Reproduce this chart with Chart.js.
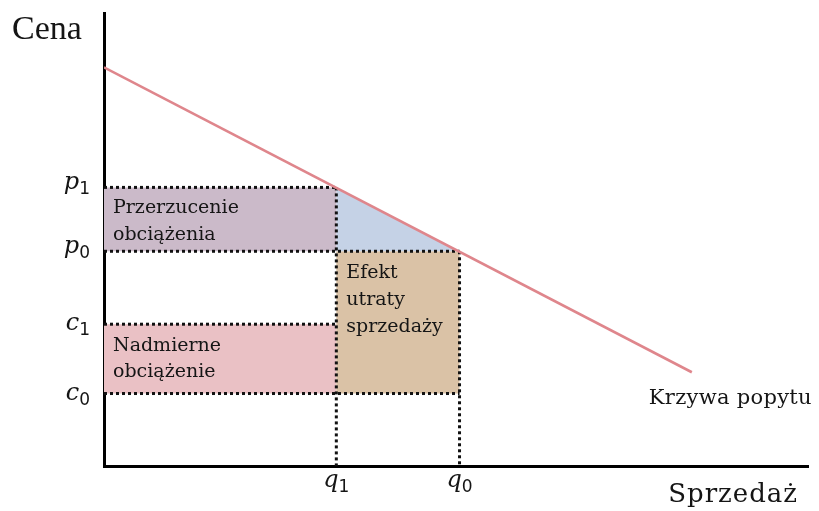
<!DOCTYPE html>
<html>
<head>
<meta charset="utf-8">
<script src="https://cdn.jsdelivr.net/npm/chart.js@4.4.0/dist/chart.umd.min.js"></script>
<style>
  html, body { margin: 0; padding: 0; background: #fff; }
  #wrap { width: 819px; height: 511px; }
</style>
</head>
<body>
<div id="wrap"><canvas id="wykres"></canvas></div>
<script>
// wartości (jednostki umowne, osie 0..100)
const popyt = [{ x: 0, y: 88 }, { x: 83.5, y: 20.7 }];
const q1 = 33, q0 = 50.5;
const p1 = 61.5, p0 = 47.4;
const c1 = 31.3, c0 = 16;

// etykiety osi
const cenyWartosci = [p1, p0, c1, c0];
const cenyLitery = ["p", "p", "c", "c"];
const cenyIndeksy = ["1", "0", "1", "0"];
const ilosciWartosci = [q1, q0];
const ilosciLitery = ["q", "q"];
const ilosciIndeksy = ["1", "0"];

// podpisy pól
const tekstPrzerzucenie = ["Przerzucenie", "obciążenia"];
const tekstNadmierne = ["Nadmierne", "obciążenie"];
const tekstEfekt = ["Efekt", "utraty", "sprzedaży"];

function prostokat(x1, y1, x2, y2) {
  return [{ x: x1, y: y1 }, { x: x2, y: y1 }, { x: x2, y: y2 }, { x: x1, y: y2 }, { x: x1, y: y1 }];
}

function pole(dane, kolor) {
  return {
    data: dane, showLine: true, fill: "shape", backgroundColor: kolor,
    borderWidth: 0, borderColor: "rgba(0,0,0,0)", pointRadius: 0, order: 10
  };
}

function kropki(dane) {
  return {
    data: dane, showLine: true, fill: false, borderColor: "#111",
    borderWidth: 3, borderDash: [3, 3], borderCapStyle: "butt",
    pointRadius: 0, order: 5
  };
}

const napisy = {
  id: "napisy",
  afterDatasetsDraw(chart) {
    const { ctx, scales: { x, y } } = chart;
    ctx.save();
    ctx.fillStyle = "#151515";
    ctx.textBaseline = "alphabetic";

    // etykiety na osi cen
    cenyWartosci.forEach((v, i) => {
      const py = y.getPixelForValue(v);
      ctx.font = "17px 'DejaVu Sans'";
      const wS = ctx.measureText(cenyIndeksy[i]).width;
      ctx.font = "italic 24px 'DejaVu Serif'";
      const wL = ctx.measureText(cenyLitery[i]).width;
      const prawy = x.getPixelForValue(0) - 14;
      const dy = cenyLitery[i] === "p" ? 2 : 6;
      ctx.textAlign = "left";
      ctx.fillText(cenyLitery[i], prawy - wS - wL, py + dy);
      ctx.font = "17px 'DejaVu Sans'";
      ctx.fillText(cenyIndeksy[i], prawy - wS, py + dy + 5);
    });

    // etykiety na osi ilości
    ilosciWartosci.forEach((v, i) => {
      const px = x.getPixelForValue(v);
      const py = y.getPixelForValue(0) + 21;
      ctx.font = "17px 'DejaVu Sans'";
      const wS = ctx.measureText(ilosciIndeksy[i]).width;
      ctx.font = "italic 24px 'DejaVu Serif'";
      const wL = ctx.measureText(ilosciLitery[i]).width;
      const lewy = px - (wS + wL) / 2;
      ctx.textAlign = "left";
      ctx.fillText(ilosciLitery[i], lewy, py);
      ctx.font = "17px 'DejaVu Sans'";
      ctx.fillText(ilosciIndeksy[i], lewy + wL, py + 5);
    });

    // podpisy pól
    ctx.font = "19px 'DejaVu Serif'";
    ctx.textAlign = "left";
    tekstPrzerzucenie.forEach((t, i) => {
      ctx.fillText(t, x.getPixelForValue(0) + 9, y.getPixelForValue(p1) + 26 + i * 27);
    });
    tekstNadmierne.forEach((t, i) => {
      ctx.fillText(t, x.getPixelForValue(0) + 9, y.getPixelForValue(c1) + 27 + i * 26);
    });
    tekstEfekt.forEach((t, i) => {
      ctx.fillText(t, x.getPixelForValue(q1) + 10, y.getPixelForValue(p0) + 27 + i * 27);
    });

    // krzywa popytu
    ctx.font = "21px 'DejaVu Serif'";
    ctx.letterSpacing = "0.3px";
    const koniec = popyt[popyt.length - 1];
    ctx.fillText("Krzywa popytu", x.getPixelForValue(koniec.x) - 43, y.getPixelForValue(koniec.y) + 32);

    // tytuły osi
    ctx.letterSpacing = "0px";
    ctx.font = "34px 'Liberation Serif'";
    ctx.fillText("Cena", 12, 39);
    ctx.font = "26px 'DejaVu Serif'";
    ctx.letterSpacing = "1px";
    ctx.textAlign = "right";
    ctx.fillText("Sprzedaż", 798, 502);
    ctx.restore();
  }
};

new Chart(document.getElementById("wykres"), {
  type: "scatter",
  data: {
    datasets: [
      pole(prostokat(0, p0, q1, p1), "#cbbac9"),
      pole([{ x: q1, y: p1 }, { x: q1, y: p0 }, { x: q0, y: p0 }, { x: q1, y: p1 }], "#c5d2e6"),
      pole(prostokat(q1, c0, q0, p0), "#dac2a6"),
      pole(prostokat(0, c0, q1, c1), "#eac1c5"),
      kropki([{ x: 0, y: p1 }, { x: q1, y: p1 }]),
      kropki([{ x: 0, y: p0 }, { x: q0, y: p0 }]),
      kropki([{ x: 0, y: c1 }, { x: q1, y: c1 }]),
      kropki([{ x: 0, y: c0 }, { x: q0, y: c0 }]),
      kropki([{ x: q1, y: p1 }, { x: q1, y: 0 }]),
      kropki([{ x: q0, y: p0 }, { x: q0, y: 0 }]),
      {
        data: popyt, showLine: true, fill: false, borderColor: "#df868c",
        borderWidth: 2.6, pointRadius: 0, order: 1
      }
    ]
  },
  options: {
    responsive: true,
    maintainAspectRatio: false,
    animation: false,
    layout: { padding: { left: 104, top: 13, right: 11, bottom: 45 } },
    plugins: { legend: { display: false }, tooltip: { enabled: false } },
    scales: {
      x: {
        type: "linear", min: 0, max: 100,
        grid: { display: false, drawTicks: false },
        ticks: { display: false },
        border: { display: true, color: "#000", width: 3 }
      },
      y: {
        type: "linear", min: 0, max: 100,
        grid: { display: false, drawTicks: false },
        ticks: { display: false },
        border: { display: true, color: "#000", width: 3 }
      }
    }
  },
  plugins: [napisy]
});
</script>
</body>
</html>
